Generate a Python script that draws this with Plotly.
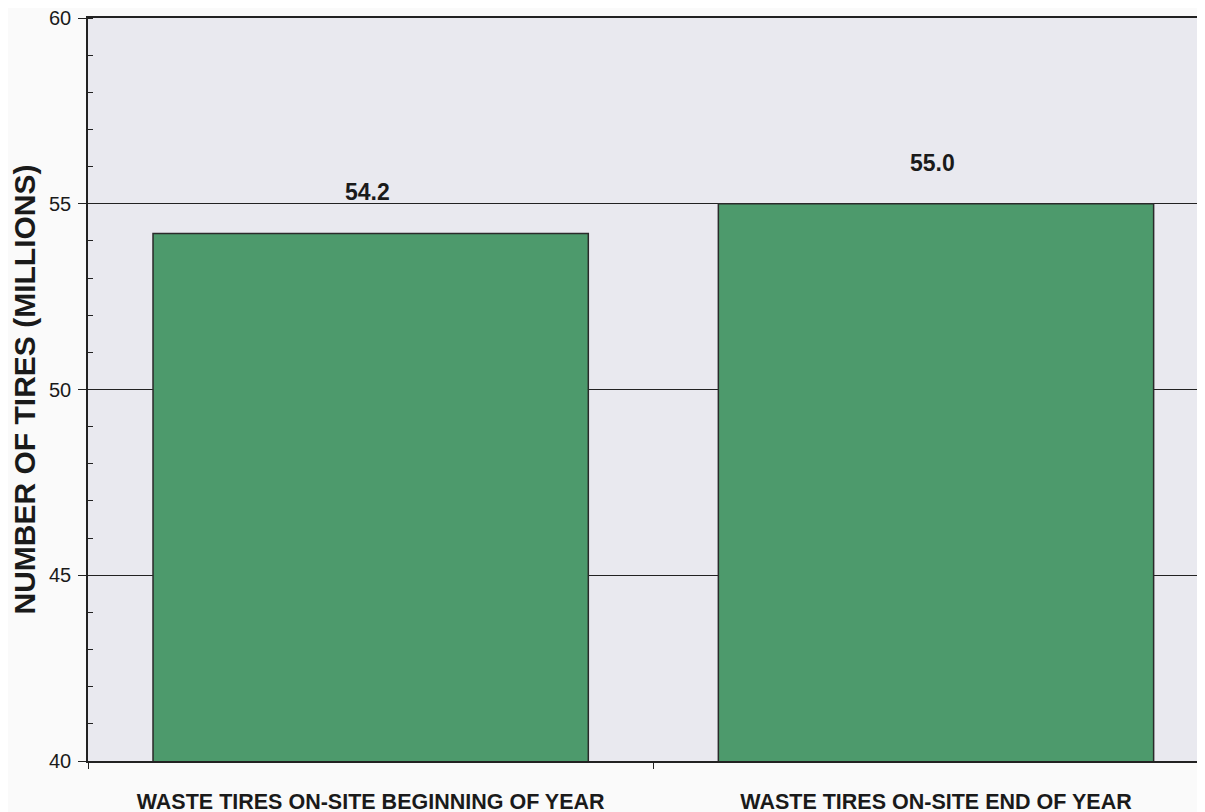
import plotly.graph_objects as go

categories = ["WASTE TIRES ON-SITE BEGINNING OF YEAR", "WASTE TIRES ON-SITE END OF YEAR"]
values = [54.2, 55.0]
value_labels = ["54.2", "55.0"]
y_ticks = [40, 45, 50, 55, 60]

fig = go.Figure()
fig.add_trace(go.Bar(
    x=categories, y=values, width=0.77,
    marker=dict(color="#4d9a6c", line=dict(color="#2a2a2a", width=1.5)),
    showlegend=False,
))
for c, v, t in zip(categories, values, value_labels):
    fig.add_annotation(x=c, y=v, text=t, showarrow=False, yanchor="middle", yshift=41, xshift=-3,
                       font=dict(family="Liberation Sans, Arial", size=23, color="#1a1a1a", weight="bold"))

fig.update_layout(
    width=1205, height=812,
    margin=dict(l=80, r=0, t=10, b=59),
    paper_bgcolor="#fafafa",
    plot_bgcolor="#e9e9ef",
    font=dict(family="Liberation Sans, Arial", color="#1a1a1a"),
)
fig.update_xaxes(
    type="category", range=[-0.5, 1.49],
    tickson="boundaries", ticks="outside", ticklen=6, tickcolor="#222",
    showline=True, linecolor="#222", linewidth=1.5, mirror=True,
    tickfont=dict(size=21.5, weight="bold", color="#1a1a1a"),
    ticklabelstandoff=20,
    showgrid=False,
)
fig.update_yaxes(
    range=[40, 60], tickvals=y_ticks, ticktext=[str(v) for v in y_ticks],
    ticks="outside", ticklen=8, tickcolor="#222",
    minor=dict(ticks="inside", dtick=1, ticklen=5, tickcolor="#222", showgrid=False),
    showline=True, linecolor="#222", linewidth=1.5,
    showgrid=True, gridcolor="#222", gridwidth=1.2,
    zeroline=False,
    tickfont=dict(size=20, color="#1a1a1a"),
    ticklabelstandoff=3,
    ticklabeloverflow="allow",
    title=dict(text="NUMBER OF TIRES (MILLIONS)", standoff=6,
               font=dict(size=30, weight="bold", color="#1a1a1a")),
)

fig.write_html("out.html")
